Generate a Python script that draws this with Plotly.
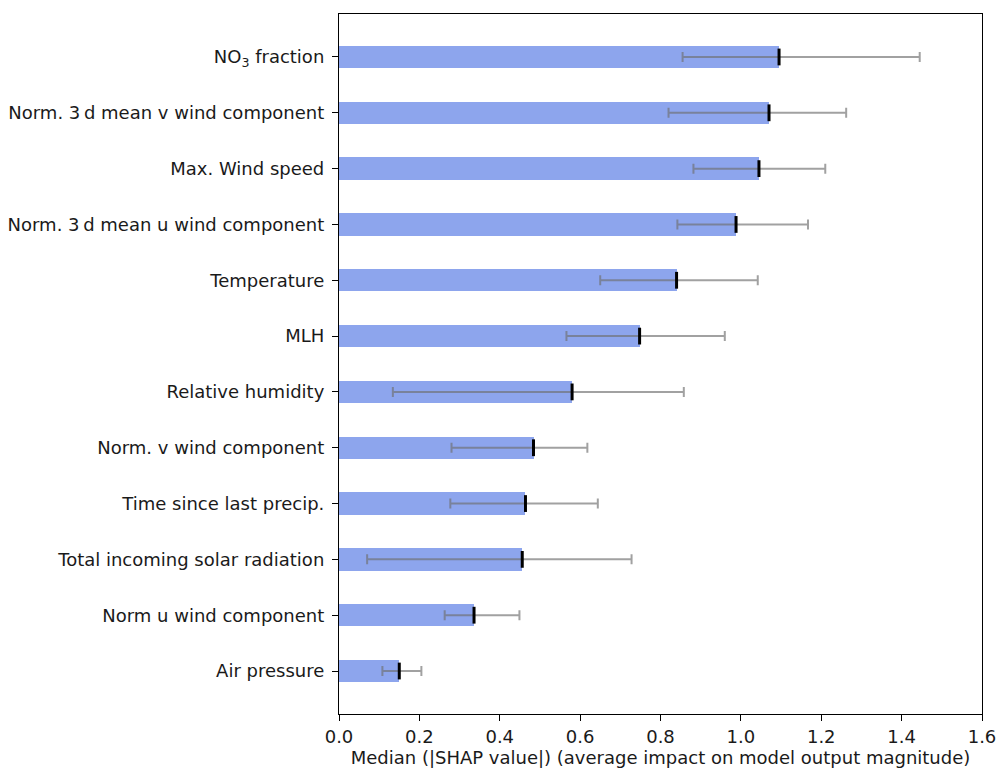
import plotly.graph_objects as go

features = [
    "NO<sub>3</sub> fraction",
    "Norm. 3\u2009d mean v wind component",
    "Max. Wind speed",
    "Norm. 3\u2009d mean u wind component",
    "Temperature",
    "MLH",
    "Relative humidity",
    "Norm. v wind component",
    "Time since last precip.",
    "Total incoming solar radiation",
    "Norm u wind component",
    "Air pressure",
]
median_shap = [1.095, 1.070, 1.045, 0.988, 0.840, 0.748, 0.580, 0.484, 0.464, 0.456, 0.336, 0.150]
low_shap = [0.855, 0.820, 0.882, 0.842, 0.650, 0.566, 0.134, 0.280, 0.277, 0.070, 0.263, 0.108]
high_shap = [1.445, 1.262, 1.210, 1.167, 1.042, 0.960, 0.858, 0.618, 0.644, 0.728, 0.449, 0.205]
x_ticks = [0.0, 0.2, 0.4, 0.6, 0.8, 1.0, 1.2, 1.4, 1.6]

n = len(features)
ypos = [n - 1 - i for i in range(n)]
err_plus = [h - m for h, m in zip(high_shap, median_shap)]
err_minus = [m - l for m, l in zip(median_shap, low_shap)]

fig = go.Figure()
fig.add_trace(go.Bar(
    x=median_shap, y=ypos, orientation="h", width=0.4,
    marker=dict(color="rgba(65,105,225,0.6)", line=dict(width=0)),
    showlegend=False,
))
fig.add_trace(go.Scatter(
    x=median_shap, y=ypos, mode="markers",
    marker=dict(size=0.1, color="rgba(0,0,0,0)"),
    error_x=dict(type="data", symmetric=False, array=err_plus, arrayminus=err_minus,
                 color="rgba(110,110,110,0.65)", thickness=2, width=5),
    showlegend=False,
))
fig.add_trace(go.Scatter(
    x=median_shap, y=ypos, mode="markers",
    marker=dict(symbol="line-ns", size=12, line=dict(width=3, color="black"), color="black"),
    showlegend=False,
))

font_family = "DejaVu Sans"
fs = 18
fig.update_layout(
    width=996, height=770,
    margin=dict(l=339, r=14, t=14, b=56, autoexpand=False),
    plot_bgcolor="white", paper_bgcolor="white",
    font=dict(family=font_family, size=fs, color="#1a1a1a"),
    bargap=0,
)
fig.update_xaxes(
    range=[0, 1.6000001], tickvals=x_ticks, ticktext=[f"{v:.1f}" for v in x_ticks],
    ticks="outside", ticklen=6, tickwidth=1.2, tickcolor="black",
    showline=True, linecolor="black", linewidth=1.2, mirror=True,
    showgrid=False, zeroline=False, automargin=False, ticklabeloverflow="allow",
    title=dict(text="Median (|SHAP value|) (average impact on model output magnitude)",
               font=dict(size=fs), standoff=2),
    tickfont=dict(size=fs),
)
fig.update_yaxes(
    range=[-0.77, n - 1 + 0.77], tickvals=ypos, ticktext=features,
    ticks="outside", ticklen=6, tickwidth=1.2, tickcolor="black",
    showline=True, linecolor="black", linewidth=1.2, mirror=True,
    showgrid=False, zeroline=False, ticklabelstandoff=4, automargin=False,
    tickfont=dict(size=fs),
)
fig.write_html(
    "out.html",
    config={"displayModeBar": False},
    post_script="document.body.style.margin='0px';document.body.style.overflow='hidden';",
)
